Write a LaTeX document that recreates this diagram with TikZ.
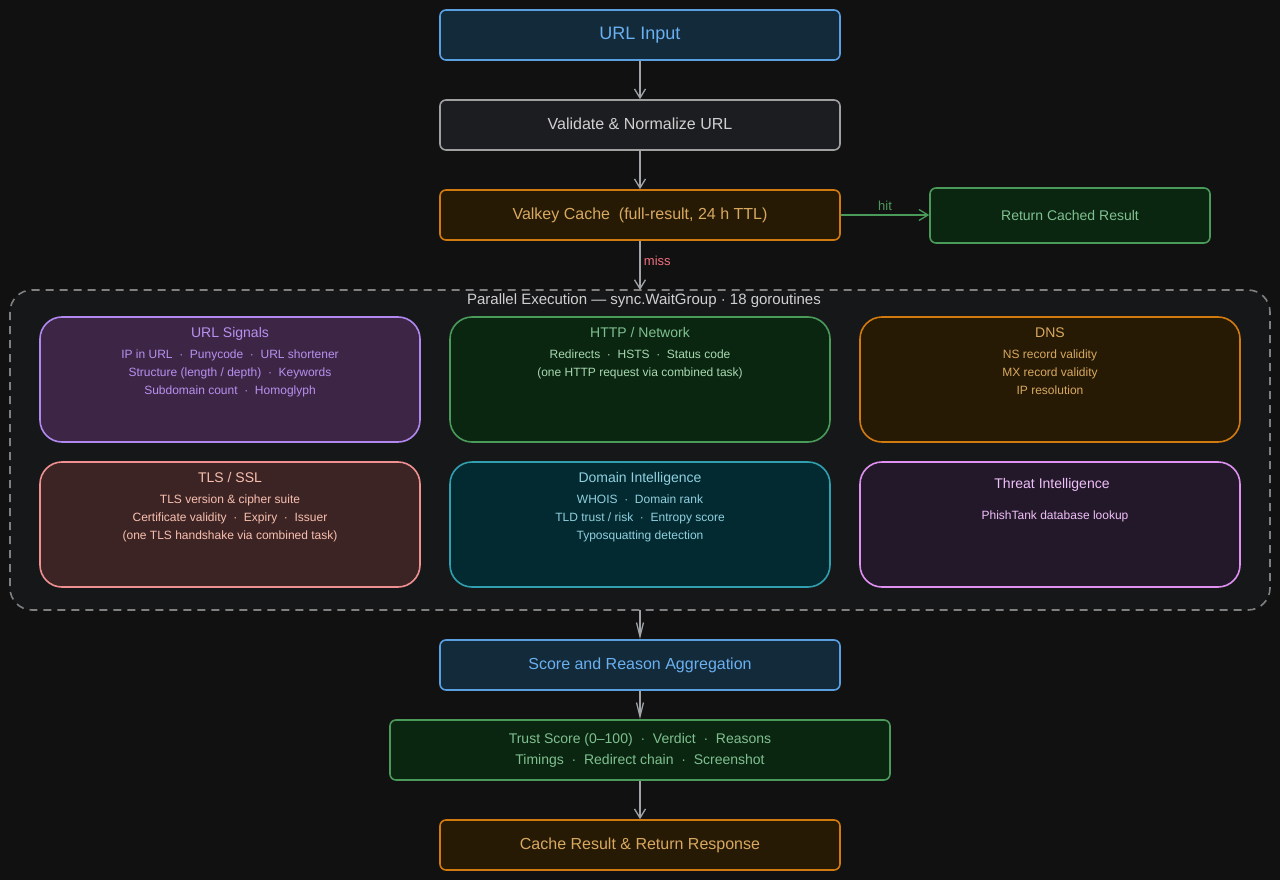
\documentclass[tikz,border=0pt]{standalone}
\usepackage{fontspec}
\setmainfont{Liberation Sans}
\usetikzlibrary{arrows.meta}
\definecolor{bg}{HTML}{111111}
\definecolor{arr}{HTML}{A0A4A8}
\definecolor{bluF}{HTML}{132A3A}\definecolor{bluD}{HTML}{5AA0E0}\definecolor{bluT}{HTML}{6AB0F0}
\definecolor{gryF}{HTML}{1C1D20}\definecolor{gryD}{HTML}{A0A0A0}\definecolor{gryT}{HTML}{D0D0D0}
\definecolor{orgF}{HTML}{271A05}\definecolor{orgD}{HTML}{D07A10}\definecolor{orgT}{HTML}{D8A860}
\definecolor{grnF}{HTML}{0A2610}\definecolor{grnD}{HTML}{4A9A5A}\definecolor{grnT}{HTML}{80C090}\definecolor{grnI}{HTML}{A8D8B0}
\definecolor{purF}{HTML}{3D2645}\definecolor{purD}{HTML}{B088F0}\definecolor{purT}{HTML}{B890F0}
\definecolor{redF}{HTML}{3D2424}\definecolor{redD}{HTML}{F09090}\definecolor{redT}{HTML}{F8C0B0}
\definecolor{cyaF}{HTML}{032A30}\definecolor{cyaD}{HTML}{30A0B0}\definecolor{cyaT}{HTML}{90D0E0}
\definecolor{pnkF}{HTML}{22182A}\definecolor{pnkD}{HTML}{E090F0}\definecolor{pnkT}{HTML}{F0C0F8}
\definecolor{dsh}{HTML}{808080}\definecolor{conF}{HTML}{161718}\definecolor{miss}{HTML}{F07080}
\begin{document}
\begin{tikzpicture}[x=1pt,y=-1pt,
 box/.style={draw, line width=1.6pt, rounded corners=6pt, minimum width=400pt, minimum height=50pt, inner sep=0pt, align=center},
 big/.style={draw, line width=1.6pt, rounded corners=22pt, minimum width=380pt, minimum height=125pt, inner sep=0pt},
 arrow/.style={draw=arr, line width=1.3pt, -{Straight Barb[length=9pt,width=11pt,line width=1.3pt]}},
 hd/.style={font=\fontsize{14}{16}\selectfont, anchor=north},
 it/.style={font=\fontsize{12}{18}\selectfont, anchor=north, align=center}]
\fill[bg] (0,0) rectangle (1280,880);
\useasboundingbox (0,0) rectangle (1280,880);
\node[box, fill=bluF, draw=bluD, text=bluT, font=\fontsize{18}{20}\selectfont] (in) at (640,35) {URL Input};
\node[box, fill=gryF, draw=gryD, text=gryT, font=\fontsize{16}{18}\selectfont] (val) at (640,125) {\raisebox{3pt}{Validate \& Normalize URL}};
\node[box, fill=orgF, draw=orgD, text=orgT, font=\fontsize{16}{18}\selectfont] (cache) at (640,215) {\raisebox{-2pt}{Valkey Cache\ \ (full-result, 24 h TTL)}};
\node[box, minimum width=280pt, minimum height=55pt, fill=grnF, draw=grnD, text=grnT, font=\fontsize{14}{16}\selectfont] (ret) at (1070,215.5) {Return Cached Result};
\draw[dash pattern=on 8pt off 6pt, draw=dsh, line width=1.6pt, fill=conF, rounded corners=22pt] (10,290) rectangle (1270,610);
\coordinate (ptop) at (640,290);
\coordinate (pbot) at (640,610);
\node[text=gryT, font=\fontsize{15}{17}\selectfont] (ptitle) at (644,301) {Parallel Execution — sync.WaitGroup · 18 goroutines};
% row 1
\node[big, fill=purF, draw=purD] (urls) at (230,379.5) {};
\node[hd, text=purT] at (230,324) {URL Signals};
\node[it, text=purT] at (230,346) {IP in URL\ \ ·\ \ Punycode\ \ ·\ \ URL shortener\\Structure (length / depth)\ \ ·\ \ Keywords\\Subdomain count\ \ ·\ \ Homoglyph};
\node[big, fill=grnF, draw=grnD] (http) at (640,379.5) {};
\node[hd, text=grnT] at (640,324) {HTTP / Network};
\node[it, text=grnI] at (640,346) {Redirects\ \ ·\ \ HSTS\ \ ·\ \ Status code\\(one HTTP request via combined task)};
\node[big, fill=orgF, draw=orgD] (dns) at (1050,379.5) {};
\node[hd, text=orgT] at (1050,324) {DNS};
\node[it, text=orgT] at (1050,346) {NS record validity\\MX record validity\\IP resolution};
% row 2
\node[big, fill=redF, draw=redD] (tls) at (230,524.5) {};
\node[hd, text=redT] at (230,469) {TLS / SSL};
\node[it, text=redT] at (230,491) {TLS version \& cipher suite\\Certificate validity\ \ ·\ \ Expiry\ \ ·\ \ Issuer\\(one TLS handshake via combined task)};
\node[big, fill=cyaF, draw=cyaD] (dom) at (640,524.5) {};
\node[hd, text=cyaT] at (640,469) {Domain Intelligence};
\node[it, text=cyaT] at (640,491) {WHOIS\ \ ·\ \ Domain rank\\TLD trust / risk\ \ ·\ \ Entropy score\\Typosquatting detection};
\node[big, fill=pnkF, draw=pnkD] (thr) at (1050,524.5) {};
\node[hd, text=pnkT] at (1052,475) {Threat Intelligence};
\node[it, text=pnkT] at (1055,507) {PhishTank database lookup};
% bottom
\node[box, fill=bluF, draw=bluD, text=bluT, font=\fontsize{16}{18}\selectfont] (score) at (640,665) {Score and Reason Aggregation};
\node[box, minimum width=500pt, minimum height=60pt, fill=grnF, draw=grnD, text=grnT, font=\fontsize{14}{21}\selectfont] (trust) at (640,750) {Trust Score (0–100)\ \ ·\ \ Verdict\ \ ·\ \ Reasons\\Timings\ \ ·\ \ Redirect chain\ \ ·\ \ Screenshot};
\node[box, fill=orgF, draw=orgD, text=orgT, font=\fontsize{16}{18}\selectfont] (out) at (640,845) {\raisebox{-2pt}{Cache Result \& Return Response}};
% arrows
\draw[arrow] (in.south) -- (val.north);
\draw[arrow] (val.south) -- (cache.north);
\draw[arrow] (cache.south) -- node[right, pos=0.4, text=miss, font=\fontsize{13}{15}\selectfont]{miss} (ptop);
\draw[arrow, draw=grnD] (cache.east) -- node[above, pos=0.5, text=grnD, font=\fontsize{13}{15}\selectfont]{hit} (ret.west|-cache.east);
\draw[arrow, -{Straight Barb[length=14pt,width=7pt,line width=1.3pt]}] (pbot) -- (score.north);
\draw[arrow, -{Straight Barb[length=14pt,width=7pt,line width=1.3pt]}] (score.south) -- (trust.north);
\draw[arrow] (trust.south) -- (out.north);
\end{tikzpicture}
\end{document}
